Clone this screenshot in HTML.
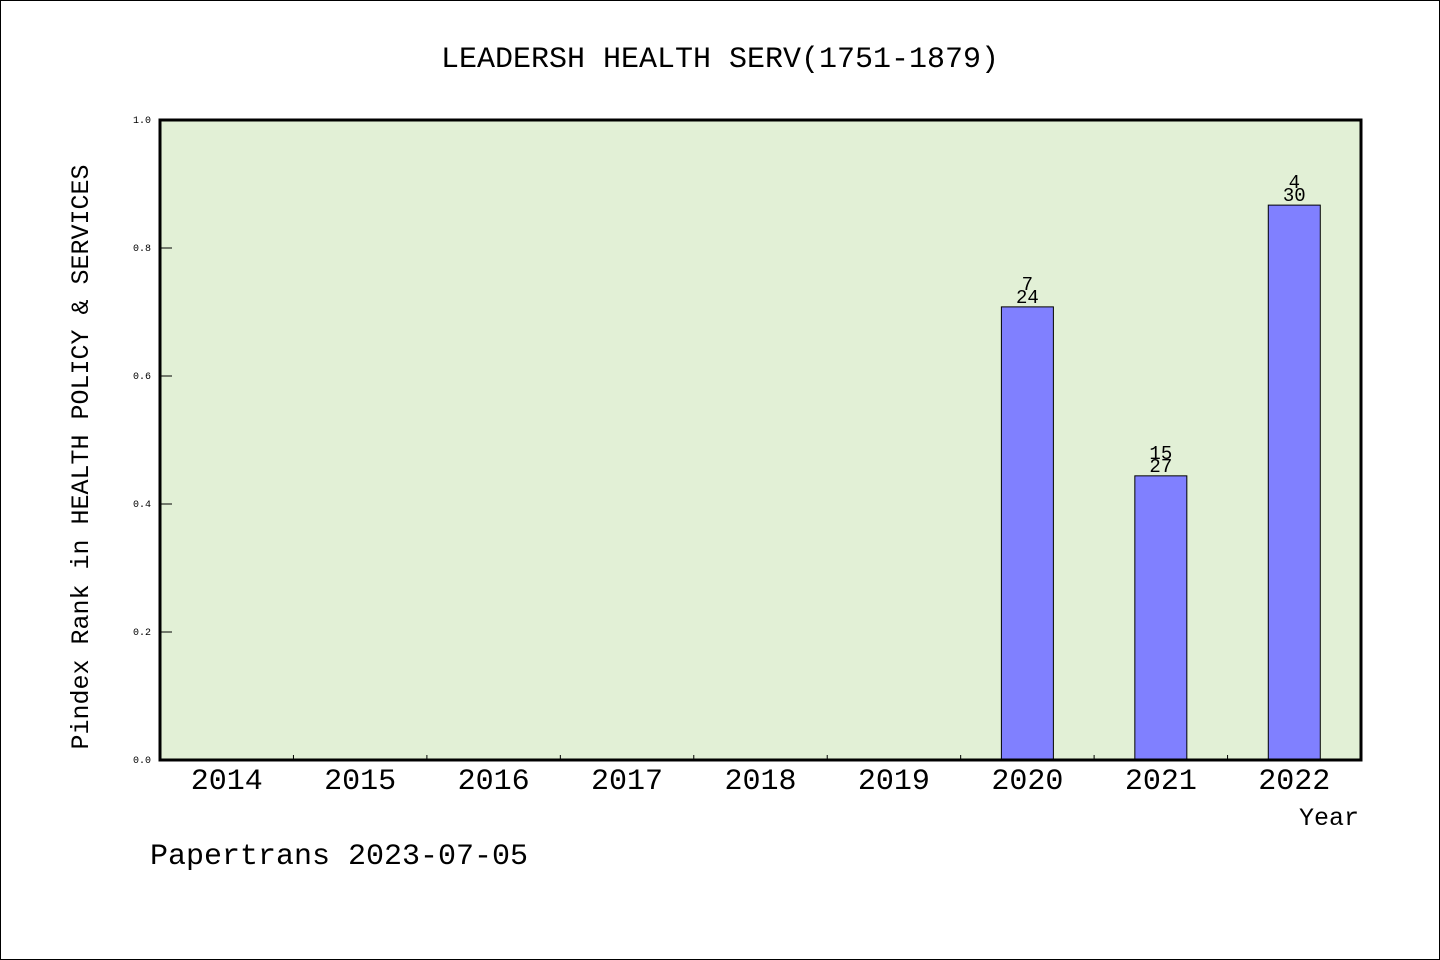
<!DOCTYPE html>
<html><head><meta charset="utf-8"><style>
body{margin:0;background:#fff}
svg{display:block}
text{font-family:"Liberation Mono","WenQuanYi Zen Hei",monospace;fill:#000}
</style></head><body>
<svg width="1440" height="960" viewBox="0 0 1440 960" xmlns="http://www.w3.org/2000/svg">
<rect x="0.5" y="0.5" width="1439" height="959" fill="#fff" stroke="#000"/>
<text x="720" y="67" font-size="30" text-anchor="middle">LEADERSH HEALTH SERV(1751-1879)</text>
<rect x="160" y="120" width="1201" height="640" fill="#e2f0d6"/>
<g id="bars"></g>
<g id="axes"></g>
<rect x="160" y="120" width="1201" height="640" fill="none" stroke="#000" stroke-width="3"/>
<text transform="translate(88,457) rotate(-90)" font-size="25" text-anchor="middle">Pindex Rank in HEALTH POLICY &amp; SERVICES</text>
<text x="1359" y="825" font-size="25" text-anchor="end">Year</text>
<text x="150" y="864" font-size="30">Papertrans 2023-07-05</text>
</svg>
<script>
const categories=["2014","2015","2016","2017","2018","2019","2020","2021","2022"];
const values=[null,null,null,null,null,null,0.708,0.444,0.867];
const topLabels=["","","","","","","7","15","4"];
const bottomLabels=["","","","","","","24","27","30"];
const yTicks=[0,0.2,0.4,0.6,0.8,1.0];
const NS="http://www.w3.org/2000/svg";
const X0=160,W=1201,Y0=760,H=640;
const band=W/categories.length;
const xc=i=>X0+(i+0.5)*band;
const y=v=>Y0-v*H;
function mk(tag,attrs,parent,txt){const e=document.createElementNS(NS,tag);for(const k in attrs)e.setAttribute(k,attrs[k]);if(txt!==undefined)e.textContent=txt;parent.appendChild(e);return e;}
const bars=document.getElementById('bars'),axes=document.getElementById('axes');
values.forEach((v,i)=>{
  if(v===null)return;
  const r=mk('rect',{x:xc(i)-26,y:y(v),width:52,height:Y0-y(v),fill:'#8080ff',stroke:'#000','stroke-width':1},bars);
  
  
  const t1=mk('text',{x:xc(i),y:y(v)-17,'font-size':19,'text-anchor':'middle'},bars,topLabels[i]);
  
  
  const t2=mk('text',{x:xc(i),y:y(v)-4,'font-size':19,'text-anchor':'middle'},bars,bottomLabels[i]);
  
  
});
categories.forEach((c,i)=>{
  const t=mk('text',{x:xc(i),y:789,'font-size':30,'text-anchor':'middle'},axes,c);
  
  
  if(i>0){const l=mk('line',{x1:X0+i*band,x2:X0+i*band,y1:Y0,y2:Y0-5,stroke:'#000','stroke-width':1},axes);
  
  }
});
yTicks.forEach(v=>{
  const l=mk('line',{x1:X0,x2:X0+12,y1:y(v),y2:y(v),stroke:'#000','stroke-width':1},axes);
  
  
  const t=mk('text',{x:151,y:y(v)+3,'font-size':10,'text-anchor':'end','font-family':'Liberation Sans, sans-serif'},axes,v.toFixed(1));
  
  
});
</script>
</body></html>
